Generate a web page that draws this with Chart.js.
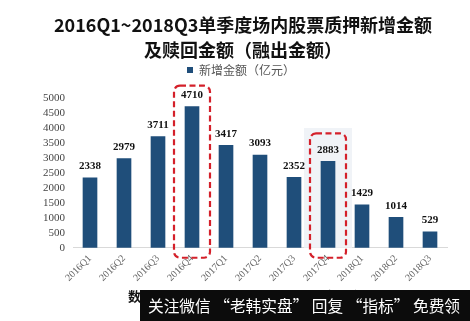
<!DOCTYPE html>
<html>
<head>
<meta charset="utf-8">
<script src="https://cdn.jsdelivr.net/npm/chart.js@4/dist/chart.umd.min.js"></script>
<style>
  html, body { margin: 0; padding: 0; background: #fff; }
  #wrap { width: 470px; height: 321px; position: relative; }
</style>
</head>
<body>
<div id="wrap"><canvas id="c" width="470" height="321"></canvas></div>
<script>
'use strict';

// data
const quarters = ['2016Q1', '2016Q2', '2016Q3', '2016Q4', '2017Q1', '2017Q2', '2017Q3', '2017Q4', '2018Q1', '2018Q2', '2018Q3'];
const newAmount = [2338, 2979, 3711, 4710, 3417, 3093, 2352, 2883, 1429, 1014, 529];
const yTicks = [0, 500, 1000, 1500, 2000, 2500, 3000, 3500, 4000, 4500, 5000];
const highlighted = ['2016Q4', '2017Q4'];

const titleLines = ['2016Q1~2018Q3单季度场内股票质押新增金额', '及赎回金额（融出金额）'];
const seriesName = '新增金额（亿元）';
const sourceText = '数据来源：中登公司，中银国际证券研究';
const bannerText = '关注微信 “老韩实盘” 回复 “指标” 免费领';

const barColor = '#1f4e7a';

// dashed red boxes, value labels, title and the watermark strip
const extras = {
    id: 'extras',
    beforeInit(chart) {
        // leave a bit more room under the legend
        const fit = chart.legend.fit;
        chart.legend.fit = function () {
            fit.call(this);
            this.height += 12;
        };
    },
    beforeDatasetsDraw(chart) {
        const ctx = chart.ctx;
        const x = chart.scales.x;
        const y = chart.scales.y;
        // faint backdrop behind the 2017Q4 box
        const cx = x.getPixelForValue(quarters.indexOf('2017Q4'));
        ctx.save();
        ctx.fillStyle = '#f0f3f7';
        ctx.fillRect(cx - 24, 128, 48, y.getPixelForValue(0) - 128);
        ctx.restore();
    },
    afterDatasetsDraw(chart) {
        const ctx = chart.ctx;
        const meta = chart.getDatasetMeta(0);
        const y = chart.scales.y;

        ctx.save();
        ctx.font = 'bold 11px "Liberation Serif", "DejaVu Serif", serif';
        ctx.fillStyle = '#111';
        ctx.textAlign = 'center';
        ctx.textBaseline = 'bottom';
        meta.data.forEach((bar, k) => {
            ctx.fillText(String(newAmount[k]), bar.x, bar.y - 6);
        });

        // dashed highlight boxes
        const gaps = [21, 28];
        ctx.strokeStyle = '#d4202a';
        ctx.lineWidth = 2.2;
        ctx.setLineDash([6, 3.5]);
        highlighted.forEach((q, n) => {
            const k = quarters.indexOf(q);
            const bar = meta.data[k];
            const top = y.getPixelForValue(newAmount[k]) - gaps[n];
            const bottom = y.getPixelForValue(0) + 10;
            ctx.beginPath();
            ctx.roundRect(bar.x - 18, top, 36, bottom - top, 6);
            ctx.stroke();
        });
        ctx.restore();
    },
    afterDraw(chart) {
        const ctx = chart.ctx;
        ctx.save();
        ctx.fillStyle = '#111';
        ctx.textAlign = 'center';
        ctx.textBaseline = 'middle';
        ctx.font = 'bold 18px "Noto Sans CJK SC", "DejaVu Serif", serif';
        ctx.fillText(titleLines[0], 243, 25, 378);
        ctx.fillText(titleLines[1], 243, 50);

        // source line, mostly hidden behind the strip
        ctx.textAlign = 'left';
        ctx.font = 'bold 13px "Noto Sans CJK SC", sans-serif';
        ctx.fillText(sourceText, 128, 296);

        ctx.fillStyle = '#0c0c0c';
        ctx.fillRect(140, 290, 330, 31);
        ctx.fillStyle = '#ffffff';
        ctx.font = '16px "Noto Sans CJK SC", sans-serif';
        ctx.fillText(bannerText, 148, 306, 312);
        ctx.restore();
    }
};

new Chart(document.getElementById('c'), {
    type: 'bar',
    data: {
        labels: quarters,
        datasets: [{
            label: seriesName,
            data: newAmount,
            backgroundColor: barColor,
            barThickness: 14
        }]
    },
    options: {
        responsive: false,
        animation: false,
        layout: { padding: { top: 56, left: 35, right: 23, bottom: 32 } },
        plugins: {
            title: { display: false },
            tooltip: { enabled: false },
            legend: {
                display: true,
                position: 'top',
                labels: {
                    boxWidth: 6,
                    boxHeight: 6,
                    color: '#555',
                    padding: 8,
                    font: { size: 12, family: '"Noto Sans CJK SC", sans-serif' }
                }
            }
        },
        scales: {
            y: {
                min: 0,
                max: 5000,
                afterBuildTicks: axis => { axis.ticks = yTicks.map(v => ({ value: v })); },
                grid: { display: false, drawTicks: false },
                border: { display: false },
                ticks: {
                    autoSkip: false,
                    color: '#444',
                    padding: 8,
                    callback: v => String(v),
                    font: { size: 11, family: '"Liberation Serif", serif' }
                }
            },
            x: {
                grid: { display: false, drawTicks: false },
                border: { display: true, color: '#d9d9d9', width: 1 },
                ticks: {
                    color: '#666',
                    maxRotation: 45,
                    minRotation: 45,
                    padding: 5,
                    font: { size: 10, family: '"Liberation Serif", serif' }
                }
            }
        }
    },
    plugins: [extras]
});
</script>
</body>
</html>
